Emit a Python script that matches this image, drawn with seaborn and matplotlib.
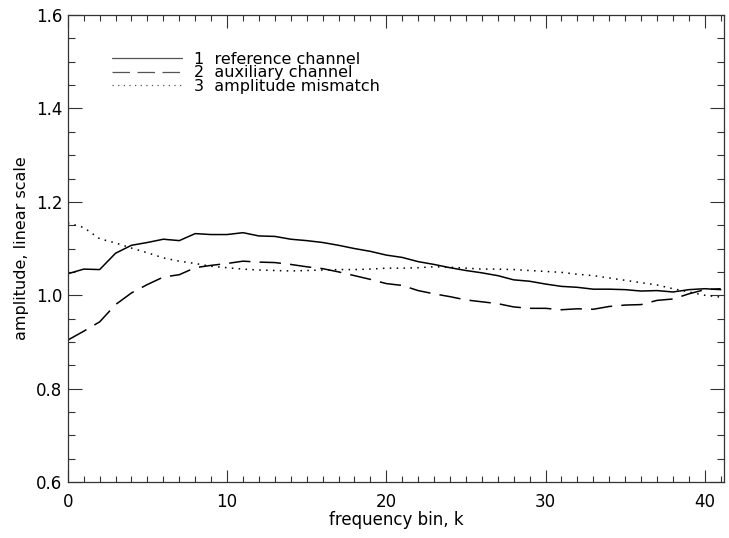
import numpy as np
import pandas as pd
import seaborn as sns
import matplotlib.pyplot as plt
from matplotlib.ticker import MultipleLocator
from matplotlib.lines import Line2D

# Frequency bins and amplitudes
bins = list(range(42))

reference = [1.046, 1.056, 1.055, 1.090, 1.107, 1.113, 1.120, 1.117, 1.132, 1.130,
             1.130, 1.134, 1.127, 1.126, 1.120, 1.117, 1.113, 1.107, 1.100, 1.094,
             1.086, 1.081, 1.072, 1.066, 1.059, 1.053, 1.048, 1.042, 1.033, 1.030,
             1.024, 1.019, 1.017, 1.013, 1.013, 1.012, 1.009, 1.010, 1.007, 1.012,
             1.014, 1.012]

auxiliary = [0.904, 0.923, 0.943, 0.980, 1.005, 1.023, 1.039, 1.044, 1.059, 1.064,
             1.068, 1.073, 1.071, 1.070, 1.066, 1.061, 1.057, 1.050, 1.042, 1.034,
             1.025, 1.021, 1.010, 1.003, 0.997, 0.990, 0.986, 0.982, 0.975, 0.972,
             0.972, 0.969, 0.971, 0.970, 0.976, 0.979, 0.980, 0.989, 0.992, 1.003,
             1.012, 1.014]

mismatch = [1.155, 1.145, 1.121, 1.112, 1.101, 1.091, 1.080, 1.073, 1.068, 1.062,
            1.059, 1.056, 1.054, 1.053, 1.052, 1.053, 1.054, 1.055, 1.055, 1.056,
            1.058, 1.058, 1.059, 1.061, 1.060, 1.058, 1.056, 1.056, 1.055, 1.053,
            1.051, 1.049, 1.045, 1.042, 1.037, 1.032, 1.027, 1.022, 1.014, 1.007,
            1.000, 0.996]

legend_labels = ["1  reference channel", "2  auxiliary channel", "3  amplitude mismatch"]

df = pd.DataFrame({"k": bins, "reference": reference,
                   "auxiliary": auxiliary, "mismatch": mismatch})

sns.set_style("ticks")
plt.rcParams["font.family"] = ["DejaVu Sans"]
plt.rcParams["text.color"] = "black"
plt.rcParams["axes.labelcolor"] = "black"
plt.rcParams["xtick.labelcolor"] = "black"
plt.rcParams["ytick.labelcolor"] = "black"

fig = plt.figure(figsize=(7.29, 5.38), dpi=100)
ax = fig.add_axes([0.093, 0.104, 0.900, 0.868])

styles = {
    "reference": "-",
    "auxiliary": (0, (14, 6)),
    "mismatch": (0, (1, 3.5)),
}
for col, ls in styles.items():
    sns.lineplot(data=df, x="k", y=col, ax=ax, color="black", linewidth=1.1,
                 linestyle=ls)

ax.set_xlim(0, 41.2)
ax.set_ylim(0.6, 1.6)
ax.xaxis.set_major_locator(MultipleLocator(10))
ax.xaxis.set_minor_locator(MultipleLocator(1))
ax.yaxis.set_major_locator(MultipleLocator(0.2))
ax.yaxis.set_minor_locator(MultipleLocator(0.05))
ax.yaxis.set_major_formatter(plt.FormatStrFormatter("%.1f"))

ax.tick_params(which="both", direction="in", top=True, right=True,
               labelsize=12, width=0.8, color="#333333", pad=8)
ax.tick_params(axis="x", which="major", length=9)
ax.tick_params(axis="x", which="minor", length=4)
ax.tick_params(axis="y", which="major", length=10)
ax.tick_params(axis="y", which="minor", length=5)
ax.tick_params(axis="y", pad=4)

for sp in ax.spines.values():
    sp.set_linewidth(0.9)
    sp.set_color("#333333")

ax.set_xlabel("frequency bin, k", fontsize=12, labelpad=0)
ax.set_ylabel("amplitude, linear scale", fontsize=11.5, labelpad=5)

handles = [Line2D([], [], color="#555555", linewidth=0.9, linestyle=ls)
           for ls in styles.values()]
ax.legend(handles, legend_labels, loc="upper left", bbox_to_anchor=(0.057, 0.935),
          frameon=False, fontsize=11.5, handlelength=4.4, handletextpad=0.75,
          labelspacing=-0.09, borderaxespad=0)

fig.savefig("out.png", dpi=100)
